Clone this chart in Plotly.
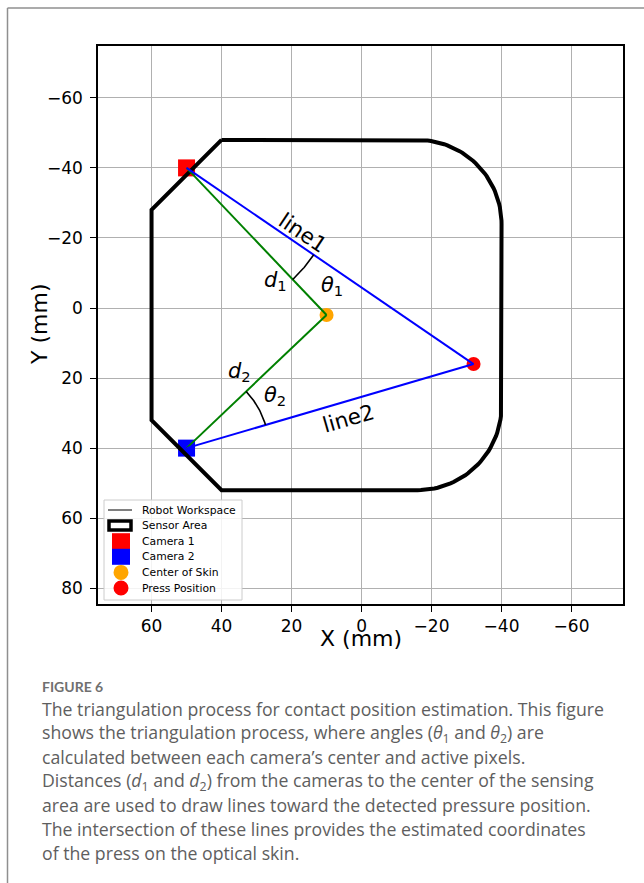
import numpy as np
import plotly.graph_objects as go

# ---------------- data (mm) ----------------
camera_names = ["Camera 1", "Camera 2"]
camera_x = [50, 50]
camera_y = [-40, 40]
camera_colors = ["#ff0000", "#0000ff"]

skin_center_x = [10]
skin_center_y = [2]
press_x = [-32]
press_y = [16]

# sensor outline (straight-edge vertices + rounded right corners)
outline_top_y = -48
outline_bottom_y = 52
outline_left_x = 60
outline_right_x = -40
chamfer_x = 40
chamfer_y = [-28, 32]
corner_radius = 24

angle_arc_radius = [44, 23.5]

x_ticks = [60, 40, 20, 0, -20, -40, -60]
y_ticks = [-60, -40, -20, 0, 20, 40, 60, 80]
x_range = [75.3, -74.7]
y_range = [84.5, -74.8]

legend_labels = ["Robot Workspace", "Sensor Area", "Camera 1", "Camera 2",
                 "Center of Skin", "Press Position"]

caption_title = "FIGURE 6"
caption_lines = [
    "The triangulation process for contact position estimation. This figure",
    "shows the triangulation process, where angles (<i>θ</i><sub>1</sub> and <i>θ</i><sub>2</sub>) are",
    "calculated between each camera’s center and active pixels.",
    "Distances (<i>d</i><sub>1</sub> and <i>d</i><sub>2</sub>) from the cameras to the center of the sensing",
    "area are used to draw lines toward the detected pressure position.",
    "The intersection of these lines provides the estimated coordinates",
    "of the press on the optical skin.",
]

# ---------------- geometry helpers ----------------
def arc(cx, cy, r, a0, a1, n=40):
    t = np.radians(np.linspace(a0, a1, n))
    return list(cx + r * np.cos(t)), list(cy + r * np.sin(t))

ox, oy = [chamfer_x], [outline_top_y]
cx1, cy1 = outline_right_x + corner_radius, outline_top_y + corner_radius
ax_, ay_ = arc(cx1, cy1, corner_radius, 270, 180)
ox += ax_; oy += ay_
cx2, cy2 = outline_right_x + corner_radius, outline_bottom_y - corner_radius
ax_, ay_ = arc(cx2, cy2, corner_radius, 180, 90)
ox += ax_; oy += ay_
ox += [chamfer_x, outline_left_x, outline_left_x, chamfer_x]
oy += [outline_bottom_y, chamfer_y[1], chamfer_y[0], outline_top_y]

FONT = "DejaVu Sans"
fig = go.Figure()

for i in range(2):
    fig.add_trace(go.Scatter(
        x=[camera_x[i]], y=[camera_y[i]], mode="markers", name=camera_names[i],
        marker=dict(symbol="square", size=17, color=camera_colors[i]),
        showlegend=False))

fig.add_trace(go.Scatter(x=ox, y=oy, mode="lines", name=legend_labels[0],
                         line=dict(color="black", width=1), showlegend=False))
fig.add_trace(go.Scatter(x=ox, y=oy, mode="lines", name=legend_labels[1],
                         line=dict(color="black", width=4), showlegend=False))

fig.add_trace(go.Scatter(x=skin_center_x, y=skin_center_y, mode="markers",
                         name=legend_labels[4],
                         marker=dict(symbol="circle", size=14, color="#ffa500"),
                         showlegend=False))
fig.add_trace(go.Scatter(x=press_x, y=press_y, mode="markers",
                         name=legend_labels[5],
                         marker=dict(symbol="circle", size=14, color="#ff0000"),
                         showlegend=False))

for i in range(2):
    fig.add_trace(go.Scatter(x=[camera_x[i], skin_center_x[0]],
                             y=[camera_y[i], skin_center_y[0]], mode="lines",
                             line=dict(color="#008000", width=2), showlegend=False))
    fig.add_trace(go.Scatter(x=[camera_x[i], press_x[0]],
                             y=[camera_y[i], press_y[0]], mode="lines",
                             line=dict(color="#0000ff", width=2), showlegend=False))
    a_c = np.degrees(np.arctan2(skin_center_y[0] - camera_y[i], skin_center_x[0] - camera_x[i]))
    a_p = np.degrees(np.arctan2(press_y[0] - camera_y[i], press_x[0] - camera_x[i]))
    arx, ary = arc(camera_x[i], camera_y[i], angle_arc_radius[i], a_c, a_p)
    fig.add_trace(go.Scatter(x=arx, y=ary, mode="lines",
                             line=dict(color="black", width=1.6), showlegend=False))

labels = [
    ("line1", 16.8, -21.7, 34, 21.5),
    ("line2", 3.9, 31.4, -16, 21.5),
    ("<i>d</i><sub>1</sub>", 24.5, -7.6, 0, 21),
    ("<i>θ</i><sub>1</sub>", 8.5, -6.2, 0, 21),
    ("<i>d</i><sub>2</sub>", 34.8, 18.4, 0, 21),
    ("<i>θ</i><sub>2</sub>", 24.8, 25.2, 0, 21),
]
for txt, x, y, ang, sz in labels:
    fig.add_annotation(x=x, y=y, xref="x", yref="y", text=txt, showarrow=False,
                       textangle=ang, font=dict(family=FONT, size=sz, color="black"))

# page geometry (pixels)
W, H = 644, 883
L, R, T, B = 98, 21, 46, 279
PW, PH = W - L - R, H - T - B
def px(xp):
    return (xp - L) / PW
def py(yp):
    return (H - B - yp) / PH

# ---------------- legend (drawn as a matplotlib-style box) ----------------
fig.add_shape(type="rect", xref="paper", yref="paper",
              x0=px(104), x1=px(242), y0=py(500), y1=py(600),
              line=dict(color="#cccccc", width=1), fillcolor="rgba(255,255,255,0.85)")
leg_y = [510 + 15.6 * k for k in range(6)]
ix0, ix1, icx = 108, 132, 121
fig.add_shape(type="line", xref="paper", yref="paper", x0=px(ix0), x1=px(ix1),
              y0=py(leg_y[0]), y1=py(leg_y[0]), line=dict(color="black", width=1))
fig.add_shape(type="rect", xref="paper", yref="paper", x0=px(ix0 + 1), x1=px(ix1 - 1),
              y0=py(leg_y[1] - 4.5), y1=py(leg_y[1] + 4.5),
              line=dict(color="black", width=3.5), fillcolor="white")
for k, col in ((2, camera_colors[0]), (3, camera_colors[1])):
    fig.add_shape(type="rect", xref="paper", yref="paper", x0=px(icx - 9), x1=px(icx + 9),
                  y0=py(leg_y[k] - 8), y1=py(leg_y[k] + 8), line=dict(width=0),
                  fillcolor=col)
for k, col in ((4, "#ffa500"), (5, "#ff0000")):
    fig.add_shape(type="circle", xref="paper", yref="paper", x0=px(icx - 7.5),
                  x1=px(icx + 7.5), y0=py(leg_y[k] - 7.5), y1=py(leg_y[k] + 7.5),
                  line=dict(width=0), fillcolor=col)
for k, lab in enumerate(legend_labels):
    fig.add_annotation(x=px(139.5), y=py(leg_y[k]), xref="paper", yref="paper",
                       text=lab, showarrow=False, xanchor="left", yanchor="middle",
                       font=dict(family=FONT, size=10.8, color="black"))

# axis titles
fig.add_annotation(x=px(360.5), y=py(638), xref="paper", yref="paper", text="X (mm)",
                   showarrow=False, xanchor="center", yanchor="middle",
                   font=dict(family=FONT, size=22, color="black"))
fig.add_annotation(x=px(39), y=py(325), xref="paper", yref="paper", text="Y (mm)",
                   showarrow=False, textangle=-90, xanchor="center", yanchor="middle",
                   font=dict(family=FONT, size=22, color="black"))

# caption
fig.add_annotation(x=px(40), y=py(686), xref="paper", yref="paper",
                   text="<b>" + caption_title + "</b>", showarrow=False,
                   xanchor="left", yanchor="middle",
                   font=dict(family="Lato", size=14, color="#707070"))
for k, line in enumerate(caption_lines):
    fig.add_annotation(x=px(40), y=py(709 + 24 * k), xref="paper", yref="paper",
                       text=line, showarrow=False, xanchor="left", yanchor="middle",
                       font=dict(family="Open Sans", size=17.7, color="#5e5e5e"))

# card border
fig.add_shape(type="line", xref="paper", yref="paper", x0=px(7.5), x1=px(7.5),
              y0=py(8), y1=py(900), line=dict(color="#8f8f8f", width=1.5))
fig.add_shape(type="line", xref="paper", yref="paper", x0=px(7.5), x1=px(660),
              y0=py(8), y1=py(8), line=dict(color="#8f8f8f", width=1.5))

axis_common = dict(showgrid=True, gridcolor="#b0b0b0", gridwidth=1.2,
                   showline=True, linecolor="black", linewidth=1.5, mirror=True,
                   ticks="outside", ticklen=6, tickwidth=1.2, tickcolor="black",
                   zeroline=False, tickfont=dict(family=FONT, size=17, color="black"))

fig.update_xaxes(range=x_range, tickvals=x_ticks, **axis_common)
fig.update_yaxes(range=y_range, tickvals=y_ticks, ticklabelstandoff=4, **axis_common)

fig.update_layout(
    width=W, height=H,
    margin=dict(l=L, r=R, t=T, b=B, pad=0),
    paper_bgcolor="white", plot_bgcolor="white",
    showlegend=False,
)

fig.write_html("out.html")
